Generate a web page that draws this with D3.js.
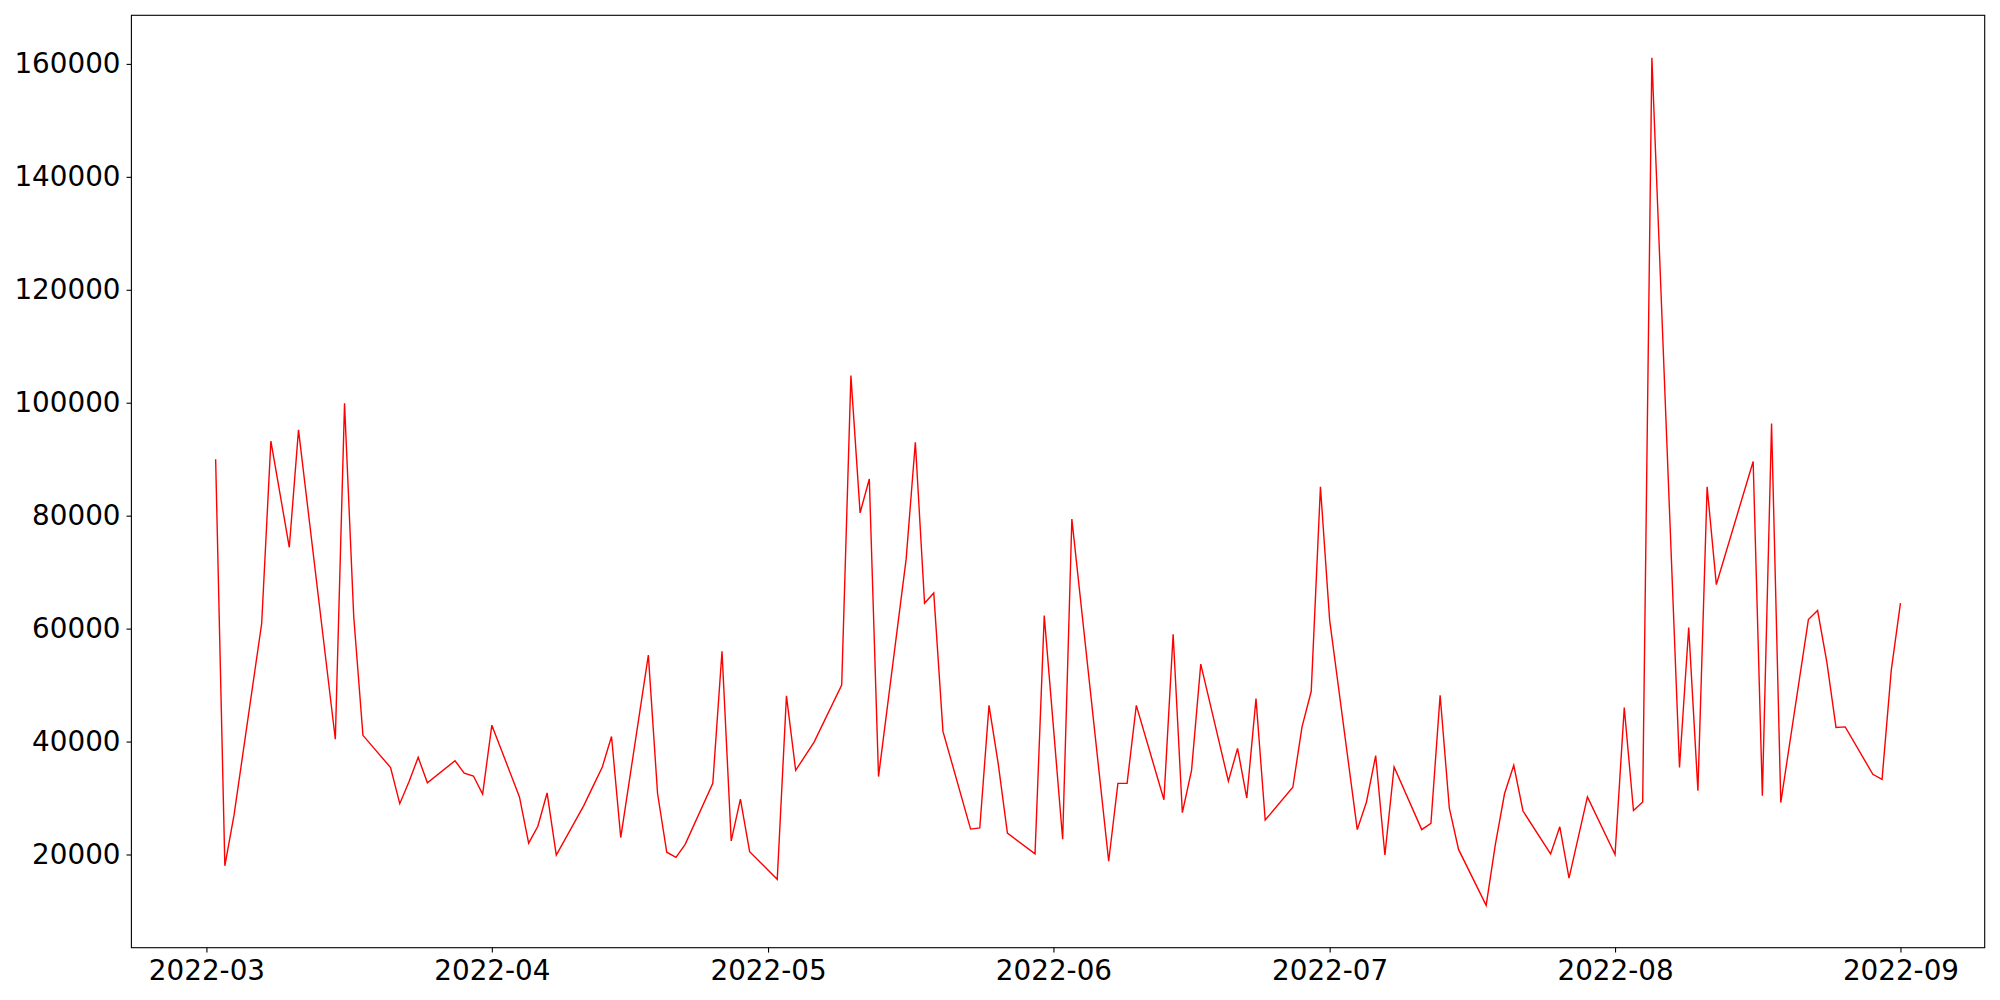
<!DOCTYPE html>
<html>
<head>
<meta charset="utf-8">
<script src="https://cdn.jsdelivr.net/npm/d3@7"></script>
<style>
  html, body { margin: 0; padding: 0; background: #fff; }
  svg { display: block; }
  .tick text { font-family: "DejaVu Sans", sans-serif; font-size: 27.8px; fill: #000; }
</style>
</head>
<body>
<div id="chart"></div>
<script>
// data
const dates = [
  "2022-03-02","2022-03-03","2022-03-04","2022-03-07","2022-03-08","2022-03-10","2022-03-11",
  "2022-03-15","2022-03-16","2022-03-17","2022-03-18","2022-03-21","2022-03-22","2022-03-23",
  "2022-03-24","2022-03-25","2022-03-28","2022-03-29","2022-03-30","2022-03-31","2022-04-01",
  "2022-04-04","2022-04-05","2022-04-06","2022-04-07","2022-04-08","2022-04-11","2022-04-12",
  "2022-04-13","2022-04-14","2022-04-15","2022-04-18","2022-04-19","2022-04-20","2022-04-21",
  "2022-04-22","2022-04-25","2022-04-26","2022-04-27","2022-04-28","2022-04-29","2022-05-02",
  "2022-05-03","2022-05-04","2022-05-06","2022-05-09","2022-05-10","2022-05-11","2022-05-12",
  "2022-05-13","2022-05-16","2022-05-17","2022-05-18","2022-05-19","2022-05-20","2022-05-23",
  "2022-05-24","2022-05-25","2022-05-26","2022-05-27","2022-05-30","2022-05-31","2022-06-02",
  "2022-06-03","2022-06-07","2022-06-08","2022-06-09","2022-06-10","2022-06-13","2022-06-14",
  "2022-06-15","2022-06-16","2022-06-17","2022-06-20","2022-06-21","2022-06-22","2022-06-23",
  "2022-06-24","2022-06-27","2022-06-28","2022-06-29","2022-06-30","2022-07-01","2022-07-04",
  "2022-07-05","2022-07-06","2022-07-07","2022-07-08","2022-07-11","2022-07-12","2022-07-13",
  "2022-07-14","2022-07-15","2022-07-18","2022-07-19","2022-07-20","2022-07-21","2022-07-22",
  "2022-07-25","2022-07-26","2022-07-27","2022-07-29","2022-08-01","2022-08-02","2022-08-03",
  "2022-08-04","2022-08-05","2022-08-08","2022-08-09","2022-08-10","2022-08-11","2022-08-12",
  "2022-08-16","2022-08-17","2022-08-18","2022-08-19","2022-08-22","2022-08-23","2022-08-24",
  "2022-08-25","2022-08-26","2022-08-29","2022-08-30","2022-08-31","2022-09-01"
];
const values = [
  90000, 18000, 27000, 60900, 93200, 74400, 95200,
  40400, 99900, 62100, 41100, 35400, 29000, 32900,
  37200, 32700, 36600, 34400, 33900, 30700, 42900,
  30200, 22000, 25000, 30900, 19900, 28700, 32100,
  35500, 40900, 23000, 55300, 30800, 20400, 19500,
  21800, 32600, 56000, 22400, 29800, 20500, 15600,
  48100, 34900, 39900, 50000, 104800, 80500, 86500,
  33800, 72300, 93000, 64500, 66300, 41800, 24500,
  24700, 46400, 36100, 23800, 20100, 62300, 22700,
  79400, 18800, 32600, 32600, 46400, 29700, 59000,
  27400, 34900, 53700, 33000, 38800, 30000, 47600,
  26100, 31900, 42600, 48900, 85100, 61500, 24400,
  29300, 37500, 19900, 35500, 24400, 25500, 48200,
  28200, 20900, 11000, 21800, 30800, 35800, 27700,
  20100, 24900, 15800, 30200, 20000, 46000, 27800,
  29300, 161100, 35400, 60200, 31300, 85100, 67800,
  89600, 30400, 96300, 29200, 61600, 63200, 54100,
  42500, 42600, 34200, 33300, 52600, 64500
];
const monthTicks = ["2022-03-01","2022-04-01","2022-05-01","2022-06-01","2022-07-01","2022-08-01","2022-09-01"];
const yTicks = [20000, 40000, 60000, 80000, 100000, 120000, 140000, 160000];

const W = 2000, H = 1000;
const plot = { left: 131.4, right: 1984.7, top: 15.3, bottom: 947.7 };
const parse = d3.utcParse("%Y-%m-%d");

const data = dates.map((d, i) => ({ date: parse(d), value: values[i] }));

// matplotlib-style 5% margins around the data extent
const [x0, x1] = d3.extent(data, d => d.date);
const xPad = (x1 - x0) * 0.05;
const [v0, v1] = d3.extent(data, d => d.value);
const yPad = (v1 - v0) * 0.05;

const x = d3.scaleUtc()
  .domain([new Date(+x0 - xPad), new Date(+x1 + xPad)])
  .range([plot.left, plot.right]);
const y = d3.scaleLinear()
  .domain([v0 - yPad, v1 + yPad])
  .range([plot.bottom, plot.top]);

const svg = d3.select("#chart").append("svg")
  .attr("width", W)
  .attr("height", H);

svg.append("rect").attr("width", W).attr("height", H).attr("fill", "#fff");

// line
svg.append("path")
  .datum(data)
  .attr("fill", "none")
  .attr("stroke", "#ff0000")
  .attr("stroke-width", 1.4)
  .attr("stroke-linejoin", "miter")
  .attr("d", d3.line().x(d => x(d.date)).y(d => y(d.value)));

// axes
const tickLen = 4.86;
const styleAxis = g => {
  g.select(".domain").remove();
  g.selectAll(".tick line").attr("stroke", "#000").attr("stroke-width", 1.1);
};

svg.append("g")
  .attr("transform", `translate(0,${plot.bottom})`)
  .call(d3.axisBottom(x)
    .tickValues(monthTicks.map(parse))
    .tickFormat(d3.utcFormat("%Y-%m"))
    .tickSize(tickLen)
    .tickPadding(7.5))
  .call(styleAxis);

svg.append("g")
  .attr("transform", `translate(${plot.left},0)`)
  .call(d3.axisLeft(y)
    .tickValues(yTicks)
    .tickFormat(d3.format("d"))
    .tickSize(tickLen)
    .tickPadding(6))
  .call(styleAxis);

// frame
svg.append("rect")
  .attr("x", plot.left)
  .attr("y", plot.top)
  .attr("width", plot.right - plot.left)
  .attr("height", plot.bottom - plot.top)
  .attr("fill", "none")
  .attr("stroke", "#000")
  .attr("stroke-width", 1.1);
</script>
</body>
</html>
